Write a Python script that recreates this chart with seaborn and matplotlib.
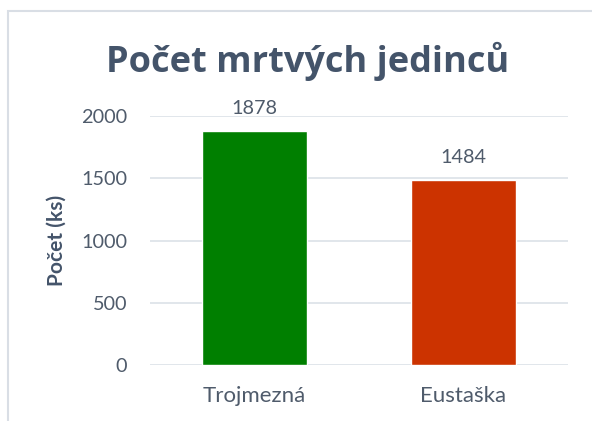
import matplotlib
matplotlib.use("Agg")
import matplotlib.pyplot as plt
import seaborn as sns
import pandas as pd
from matplotlib.patches import Rectangle

categories = ["Trojmezná", "Eustaška"]
values = [1878, 1484]
colors = ["#007F00", "#CC3300"]
yticks = [0, 500, 1000, 1500, 2000]

sns.set_theme(style="white")
plt.rcParams['font.family'] = ['Lato', 'DejaVu Sans']

df = pd.DataFrame({"cat": categories, "val": values})

fig = plt.figure(figsize=(5.92, 4.21), dpi=100)
ax = fig.add_axes([150/592, 1-365/421, (568-150)/592, (365-116)/421])

sns.barplot(data=df, x="cat", y="val", hue="cat", palette=colors, width=0.5,
            ax=ax, legend=False, saturation=1)

txt = "#44546A"
tick_col = "#4F5B6B"
ax.set_ylim(0, 2000)
ax.set_yticks(yticks)
ax.set_yticklabels([str(t) for t in yticks], fontsize=14.3, color=tick_col)
ax.tick_params(axis='x', labelsize=16, labelcolor=tick_col, length=0, pad=15)
ax.tick_params(axis='y', length=0, pad=16.5)
ax.yaxis.grid(True, color="#DCE1E8", lw=1.2)
ax.set_axisbelow(True)
for s in ax.spines.values():
    s.set_visible(False)
ax.set_xlabel("")
ax.set_ylabel("Počet (ks)", fontsize=15, fontweight='bold', color=txt)
ax.yaxis.set_label_coords((67-150)/418, 0.5)

for container in ax.containers:
    ax.bar_label(container, labels=[str(int(v.get_height())) for v in container],
                 padding=10, fontsize=14.3, color=tick_col)

fig.text(307.5/592, 1-72/421, "Počet mrtvých jedinců", fontsize=26,
         fontweight='bold', family=['Open Sans', 'DejaVu Sans'],
         color=txt, ha='center', va='baseline')

fig.add_artist(Rectangle((8/592, -0.1), 1.2, 1 - 11/421 + 0.1, transform=fig.transFigure,
                         fill=False, edgecolor="#D9DEE5", lw=1.5, clip_on=False))

fig.savefig("out.png", dpi=100)
